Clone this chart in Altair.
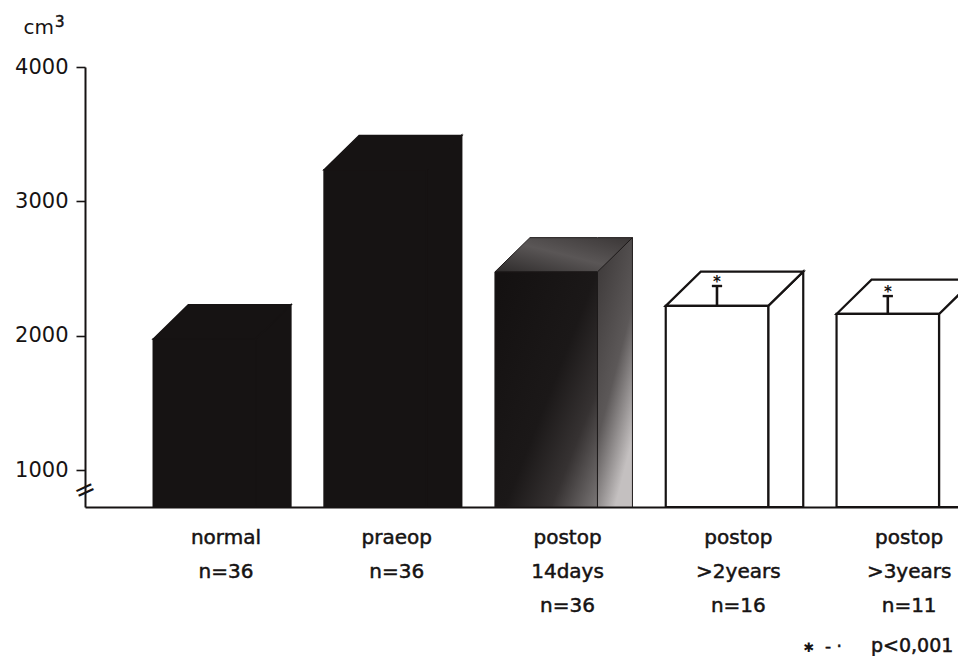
import altair as alt
import pandas as pd

# ---------------- data ----------------
categories = ["normal", "praeop", "postop 14days", "postop >2years", "postop >3years"]
label_lines = [["normal", "n=36"],
               ["praeop", "n=36"],
               ["postop", "14days", "n=36"],
               ["postop", ">2years", "n=16"],
               ["postop", ">3years", "n=11"]]
values = [1975, 3235, 2475, 2222, 2162]          # cm3 (front face height)
error_upper = [None, None, None, 2370, 2295]     # upper end of error bar
significant = [False, False, False, True, True]  # * p<0,001
styles = ["black", "black", "stipple", "white", "white"]
y_ticks = [1000, 2000, 3000, 4000]

# ---------------- geometry / style constants ----------------
BASE = 725          # value at the (broken) baseline
YMAX = 4000
XMAX = 5.111        # slots visible on the x range
FRONT_L, FRONT_R = 0.40, 1.00
DX, DY = 0.205, 255  # 3-D depth (x slots, y value units)
LABEL_X = 0.825
FONT = "DejaVu Sans"
INK = "#161313"

rows_front, rows_top, rows_side = [], [], []
for i, (cat, v, st) in enumerate(zip(categories, values, styles)):
    xl, xr = i + FRONT_L, i + FRONT_R
    rows_front.append(dict(id=cat, style=st, x=xl, x2=xr, y=v, y2=BASE))
    for px, py, py2 in [(xl, v, v), (xl + DX, v + DY, v),
                        (xr, v + DY, v), (xr + DX, v + DY, v + DY)]:
        rows_top.append(dict(id=cat, style=st, x=px, y=py, y2=py2))
    rows_side.append(dict(id=cat, style=st, x=xr, y=v, y2=BASE))
    rows_side.append(dict(id=cat, style=st, x=xr + DX, y=v + DY, y2=BASE))

front = pd.DataFrame(rows_front)
top = pd.DataFrame(rows_top)
side = pd.DataFrame(rows_side)

err = pd.DataFrame([dict(x=i + (FRONT_L + FRONT_R) / 2, y=v, y2=e,
                         cx=i + (FRONT_L + FRONT_R) / 2 - 0.03,
                         cx2=i + (FRONT_L + FRONT_R) / 2 + 0.03,
                         star="*" if s else "")
                    for i, (v, e, s) in enumerate(zip(values, error_upper, significant))
                    if e is not None])

labels = pd.DataFrame(dict(x=[i + LABEL_X for i in range(len(categories))],
                           y=[BASE] * len(categories),
                           text=label_lines))
brk = pd.DataFrame(dict(x=[0.0], y=[850], t=["="]))

# ---------------- scales / axes ----------------
xscale = alt.Scale(domain=[0, XMAX], nice=False, zero=False)
yscale = alt.Scale(domain=[BASE, YMAX], nice=False, zero=False)
xaxis = alt.Axis(domain=True, domainColor=INK, domainWidth=2, ticks=False,
                 labels=False, grid=False, title=None)
yaxis = alt.Axis(values=y_ticks, format="d", domain=True, domainColor=INK,
                 domainWidth=2, ticks=True, tickSize=9, tickWidth=1.6,
                 tickColor=INK, labelFont=FONT, labelFontSize=21,
                 labelColor=INK, labelPadding=8, grid=False,
                 title="cm", titleFont=FONT, titleFontSize=20,
                 titleFontWeight="normal", titleColor=INK, titleAngle=0,
                 titleAlign="left", titleBaseline="alphabetic",
                 titleX=-62, titleY=-34)


def X(f):
    return alt.X(f, type="quantitative", scale=xscale, axis=xaxis)


def Y(f):
    return alt.Y(f, type="quantitative", scale=yscale, axis=yaxis)


def faces(style, front_fill, top_fill, side_fill, stroke, sw):
    f = front[front["style"] == style]
    t = top[top["style"] == style]
    s = side[side["style"] == style]
    side_l = alt.Chart(s).mark_area(fill=side_fill, stroke=stroke, strokeWidth=sw,
                                    orient="vertical", clip=True,
                                    strokeJoin="miter").encode(
        x=X("x"), y=Y("y"), y2=alt.Y2("y2"), detail="id:N")
    top_l = alt.Chart(t).mark_area(fill=top_fill, stroke=stroke, strokeWidth=sw,
                                   orient="vertical", clip=True,
                                   strokeJoin="miter").encode(
        x=X("x"), y=Y("y"), y2=alt.Y2("y2"), detail="id:N")
    front_l = alt.Chart(f).mark_rect(fill=front_fill, stroke=stroke, strokeWidth=sw,
                                     clip=True).encode(
        x=X("x"), x2="x2", y=Y("y"), y2="y2")
    return [side_l, top_l, front_l]


def grad(stops, x1=0, y1=0, x2=1, y2=0):
    return alt.Gradient(gradient="linear",
                        stops=[alt.GradientStop(offset=o, color=c) for o, c in stops],
                        x1=x1, y1=y1, x2=x2, y2=y2)


black_layers = faces("black", INK, INK, INK, INK, 1.6)
stip_layers = faces(
    "stipple",
    grad([(0, "#141111"), (0.5, "#1b1818"), (0.75, "#363232"), (1, "#7a7676")],
         x1=0, y1=0.1, x2=1, y2=1),
    grad([(0, "#2e2b2b"), (0.5, "#5a5656"), (1, "#3a3636")], x1=0, y1=1, x2=1, y2=0),
    grad([(0, "#3a3636"), (0.6, "#5c5858"), (1, "#c4c0c0")], x1=0, y1=0, x2=0.5, y2=1),
    "#1e1a1a", 1)
white_layers = faces("white", "white", "white", "white", INK, 2.2)

err_rule = alt.Chart(err).mark_rule(color=INK, strokeWidth=2.6).encode(
    x=X("x"), y=Y("y"), y2="y2")
err_cap = alt.Chart(err).mark_rule(color=INK, strokeWidth=2.4).encode(
    x=X("cx"), x2="cx2", y=Y("y2"))
err_star = alt.Chart(err).mark_text(font=FONT, fontSize=15, fontWeight="bold",
                                    color=INK, baseline="alphabetic", dy=1).encode(
    x=X("x"), y=Y("y2"), text="star:N")

TXT = dict(font=FONT, color=INK, stroke=INK, strokeWidth=0.5)

cat_text = alt.Chart(labels).mark_text(fontSize=20, align="center",
                                       baseline="alphabetic", dy=37,
                                       lineHeight=34, **TXT).encode(
    x=X("x"), y=Y("y"), text="text")

break_mark = alt.Chart(brk).mark_text(font=FONT, fontSize=26, color=INK,
                                      angle=335, align="center",
                                      baseline="middle").encode(
    x=X("x"), y=Y("y"), text="t:N")

unit_sup = alt.Chart(brk).mark_text(text="3", fontSize=15, align="left",
                                    baseline="alphabetic", **TXT).encode(
    x=alt.value(-30), y=alt.value(-40))

foot_star = alt.Chart(brk).mark_text(text="✱", font=FONT, fontSize=13, color=INK,
                                     align="center", baseline="alphabetic").encode(
    x=alt.value(724), y=alt.value(585))
foot_dash = alt.Chart(brk).mark_text(text="-  ·", fontSize=17, align="left",
                                     baseline="alphabetic", **TXT).encode(
    x=alt.value(740), y=alt.value(585))
foot_text = alt.Chart(brk).mark_text(text="p<0,001", fontSize=19, align="left",
                                     baseline="alphabetic", **TXT).encode(
    x=alt.value(786), y=alt.value(585))

chart = alt.layer(
    *black_layers, *stip_layers, *white_layers,
    err_rule, err_cap, err_star, cat_text, break_mark, unit_sup,
    foot_star, foot_dash, foot_text
).properties(
    width=873, height=440,
    autosize=alt.AutoSizeParams(type="none"),
    padding={"left": 77, "top": 59, "right": 0, "bottom": 149},
    background="white",
).configure_view(stroke=None)

chart.save("out.html", embed_options={"renderer": "svg", "actions": False})
